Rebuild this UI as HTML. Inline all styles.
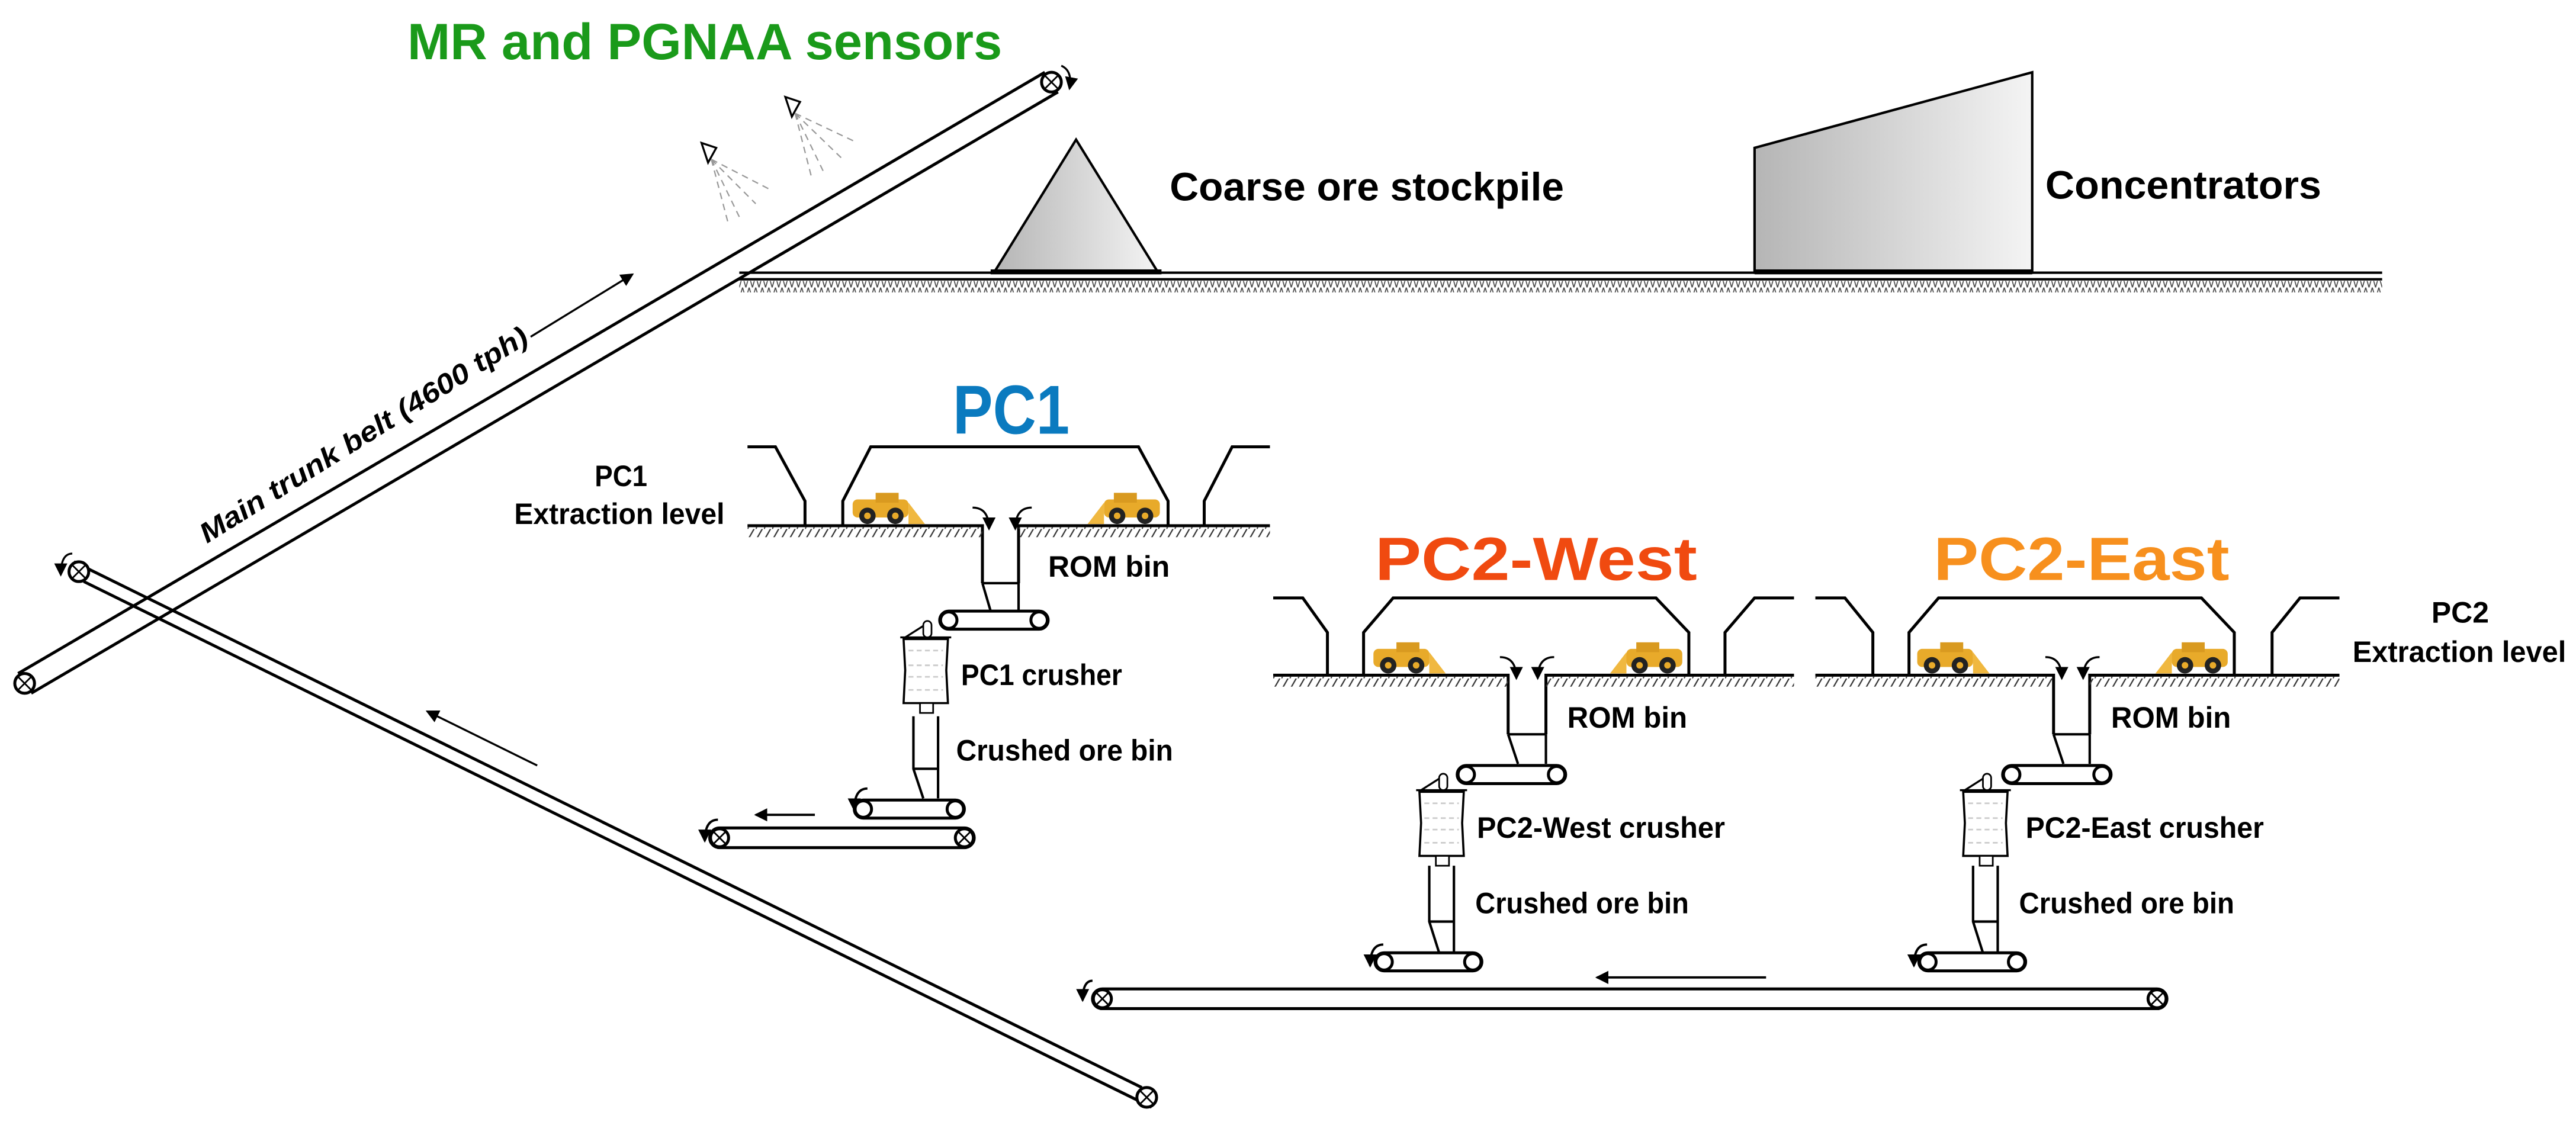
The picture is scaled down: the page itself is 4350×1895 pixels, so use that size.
<!DOCTYPE html>
<html><head><meta charset="utf-8"><style>
html,body{margin:0;padding:0;background:#fff;}
svg{display:block;}
text{font-family:"Liberation Sans",sans-serif;font-weight:bold;}
</style></head><body>
<svg width="4350" height="1895" viewBox="0 0 1568 683" preserveAspectRatio="none" xmlns="http://www.w3.org/2000/svg">
<defs>
<pattern id="hx" width="4" height="7" patternUnits="userSpaceOnUse"><path d="M0 0L2 7L4 0" stroke="#444" stroke-width="0.6" fill="none"/></pattern>
<pattern id="hs" width="5" height="7" patternUnits="userSpaceOnUse"><path d="M0 7L4 0" stroke="#333" stroke-width="0.8"/></pattern>
<linearGradient id="g" x1="0" x2="1"><stop offset="0" stop-color="#b5b5b5"/><stop offset="1" stop-color="#f4f4f4"/></linearGradient>
<marker id="ar" markerWidth="8" markerHeight="8" refX="7" refY="4" orient="auto" markerUnits="userSpaceOnUse"><path d="M0 0L8 4L0 8z" fill="#000"/></marker>
<g id="loaderR"><rect x="0" y="4" width="34" height="11" rx="3" fill="#e8aa2a"/><rect x="14" y="0" width="14" height="6" fill="#d99a20"/><circle cx="9" cy="14" r="5" fill="#222"/><circle cx="26" cy="14" r="5" fill="#222"/><circle cx="9" cy="14" r="2" fill="#e8aa2a"/><circle cx="26" cy="14" r="2" fill="#e8aa2a"/><path d="M34 6L44 19L34 19z" fill="#f0b840"/></g>
<g id="crusher"><path d="M0 10L31 10M3 10L14 3" stroke="#000" stroke-width="1.2" fill="none"/><rect x="14" y="0" width="5" height="10" rx="2.5" fill="#fff" stroke="#000"/><path d="M2 11L29 11L28 30L29 50L2 50L3 30z" fill="#fff" stroke="#000" stroke-width="1.3"/><g stroke="#ccc" stroke-dasharray="3 2"><path d="M5 18H26M5 27H26M5 34H26M5 42H26"/></g><rect x="12" y="50" width="8" height="6" fill="#fff" stroke="#000"/></g>
</defs>
<g stroke="#000" fill="none" stroke-width="1.8">
<!-- upper trunk belt -->
<path d="M11 410L636 44M19 422L644 56"/>
<circle cx="15" cy="416" r="6" fill="#fff"/><path d="M11 412l8 8M19 412l-8 8" stroke-width="1"/>
<circle cx="640" cy="50" r="6" fill="#fff"/><path d="M636 46l8 8M644 46l-8 8" stroke-width="1"/>
<path d="M646 40q7 3 5 14" stroke-width="1.2" marker-end="url(#ar)"/>
<!-- lower belt -->
<path d="M45 342L695 662M51 354L701 674"/>
<circle cx="48" cy="348" r="6" fill="#fff"/><path d="M44 344l8 8M52 344l-8 8" stroke-width="1"/>
<circle cx="698" cy="668" r="6" fill="#fff"/><path d="M694 664l8 8M702 664l-8 8" stroke-width="1"/>
<path d="M44 337q-7 0 -7 13" stroke-width="1.2" marker-end="url(#ar)"/>
<path d="M323 205L385 167" stroke-width="1.2" marker-end="url(#ar)"/>
<path d="M327 466L260 433" stroke-width="1.2" marker-end="url(#ar)"/>
<!-- ground -->
<path d="M450 166H1450M450 170H1450" stroke-width="1.5"/>
</g>
<rect x="450" y="171" width="1000" height="7" fill="url(#hx)"/>
<polygon points="605,166 655,85 705,166" fill="url(#g)" stroke="#000" stroke-width="1.5"/>
<rect x="603" y="164" width="104" height="3" fill="#000"/>
<polygon points="1068,166 1068,90 1237,44 1237,166" fill="url(#g)" stroke="#000" stroke-width="1.5"/>
<rect x="1068" y="164" width="169" height="3" fill="#000"/>
<!-- sensors -->
<g stroke="#000" stroke-width="1.2" fill="#fff"><path d="M427 87l9 3l-5 9z"/><path d="M478 59l9 3l-5 9z"/></g>
<g stroke="#999" stroke-width="0.8" stroke-dasharray="4 3"><path d="M433 97L443 135M433 97L450 132M433 97L460 124M433 97L468 115M484 69L494 108M484 69L501 104M484 69L512 96M484 69L520 86"/></g>
<!-- texts -->
<text x="248" y="36" font-size="31" fill="#1a9a1a" textLength="362" lengthAdjust="spacingAndGlyphs">MR and PGNAA sensors</text>
<text x="712" y="122" font-size="24" textLength="240" lengthAdjust="spacingAndGlyphs">Coarse ore stockpile</text>
<text x="1245" y="121" font-size="24" textLength="168" lengthAdjust="spacingAndGlyphs">Concentrators</text>
<text transform="translate(126,331) rotate(-32)" font-size="17" font-style="italic" textLength="232" lengthAdjust="spacingAndGlyphs">Main trunk belt (4600 tph)</text>
<text x="580" y="264" font-size="42" fill="#0a7abf" textLength="71" lengthAdjust="spacingAndGlyphs">PC1</text>
<text x="837" y="353" font-size="37" fill="#f04a10" textLength="196" lengthAdjust="spacingAndGlyphs">PC2-West</text>
<text x="1177" y="353" font-size="37" fill="#f7901e" textLength="180" lengthAdjust="spacingAndGlyphs">PC2-East</text>
<text x="362" y="296" font-size="18" textLength="32" lengthAdjust="spacingAndGlyphs">PC1</text>
<text x="313" y="319" font-size="18" textLength="128" lengthAdjust="spacingAndGlyphs">Extraction level</text>
<text x="1480" y="379" font-size="18" textLength="35" lengthAdjust="spacingAndGlyphs">PC2</text>
<text x="1432" y="403" font-size="18" textLength="130" lengthAdjust="spacingAndGlyphs">Extraction level</text>
<text x="638" y="351" font-size="18" textLength="74" lengthAdjust="spacingAndGlyphs">ROM bin</text>
<text x="585" y="417" font-size="18" textLength="98" lengthAdjust="spacingAndGlyphs">PC1 crusher</text>
<text x="582" y="463" font-size="18" textLength="132" lengthAdjust="spacingAndGlyphs">Crushed ore bin</text>
<text x="954" y="443" font-size="18" textLength="73" lengthAdjust="spacingAndGlyphs">ROM bin</text>
<text x="899" y="510" font-size="18" textLength="151" lengthAdjust="spacingAndGlyphs">PC2-West crusher</text>
<text x="898" y="556" font-size="18" textLength="130" lengthAdjust="spacingAndGlyphs">Crushed ore bin</text>
<text x="1285" y="443" font-size="18" textLength="73" lengthAdjust="spacingAndGlyphs">ROM bin</text>
<text x="1233" y="510" font-size="18" textLength="145" lengthAdjust="spacingAndGlyphs">PC2-East crusher</text>
<text x="1229" y="556" font-size="18" textLength="131" lengthAdjust="spacingAndGlyphs">Crushed ore bin</text>
<!-- drifts -->
<g stroke="#000" stroke-width="1.8" fill="none">
<path d="M455 272H472L490 305V320M513 320V305L530 272H693L711 305V320M733 320V305L750 272H773"/>
<path d="M455 320H598V355M620 355V320H773"/>
<path d="M598 355L603 372M620 355V372M598 355H620" stroke-width="1.5"/>
<path d="M775 364H793L808 385V411M830 411V385L848 364H1008L1028 385V411M1050 411V385L1068 364H1092"/>
<path d="M775 411H918V447M941 447V411H1092"/>
<path d="M918 447L924 465M941 447V465M918 447H941" stroke-width="1.5"/>
<path d="M1105 364H1123L1140 385V411M1162 411V385L1180 364H1340L1360 385V411M1383 411V385L1400 364H1424"/>
<path d="M1105 411H1250V447M1272 447V411H1424"/>
<path d="M1250 447L1256 465M1272 447V465M1250 447H1272" stroke-width="1.5"/>
<!-- crushed bins -->
<path d="M556 436V468L562 486M571 436V486M556 468H571" stroke-width="1.5"/>
<path d="M870 527V561L876 580M885 527V580M870 561H885" stroke-width="1.5"/>
<path d="M1201 527V561L1207 580M1216 527V580M1201 561H1216" stroke-width="1.5"/>
</g>
<rect x="455" y="321" width="143" height="6" fill="url(#hs)"/><rect x="620" y="321" width="153" height="6" fill="url(#hs)"/>
<rect x="775" y="412" width="143" height="6" fill="url(#hs)"/><rect x="941" y="412" width="151" height="6" fill="url(#hs)"/>
<rect x="1105" y="412" width="145" height="6" fill="url(#hs)"/><rect x="1272" y="412" width="152" height="6" fill="url(#hs)"/>
<!-- loaders -->
<use href="#loaderR" x="519" y="300"/><use href="#loaderR" transform="translate(706,300) scale(-1,1)"/>
<use href="#loaderR" x="836" y="391"/><use href="#loaderR" transform="translate(1024,391) scale(-1,1)"/>
<use href="#loaderR" x="1167" y="391"/><use href="#loaderR" transform="translate(1356,391) scale(-1,1)"/>
<!-- dump arrows -->
<g stroke="#000" stroke-width="1.2" fill="none">
<path d="M592 309q10 0 10 13" marker-end="url(#ar)"/><path d="M628 309q-10 0 -10 13" marker-end="url(#ar)"/>
<path d="M913 400q10 0 10 13" marker-end="url(#ar)"/><path d="M946 400q-10 0 -10 13" marker-end="url(#ar)"/>
<path d="M1245 400q10 0 10 13" marker-end="url(#ar)"/><path d="M1278 400q-10 0 -10 13" marker-end="url(#ar)"/>
</g>
<!-- conveyors -->
<g stroke="#000" stroke-width="1.8" fill="#fff">
<rect x="572" y="372" width="66" height="11" rx="5.5"/><circle cx="577.5" cy="377.5" r="5"/><circle cx="632.5" cy="377.5" r="5"/>
<rect x="520" y="487" width="67" height="11" rx="5.5"/><circle cx="525.5" cy="492.5" r="5"/><circle cx="581.5" cy="492.5" r="5"/>
<rect x="432" y="504" width="161" height="12" rx="6"/><circle cx="438" cy="510" r="5.5"/><circle cx="587" cy="510" r="5.5"/>
<rect x="887" y="466" width="66" height="11" rx="5.5"/><circle cx="892.5" cy="471.5" r="5"/><circle cx="947.5" cy="471.5" r="5"/>
<rect x="837" y="580" width="65" height="11" rx="5.5"/><circle cx="842.5" cy="585.5" r="5"/><circle cx="896.5" cy="585.5" r="5"/>
<rect x="1219" y="466" width="66" height="11" rx="5.5"/><circle cx="1224.5" cy="471.5" r="5"/><circle cx="1279.5" cy="471.5" r="5"/>
<rect x="1168" y="580" width="65" height="11" rx="5.5"/><circle cx="1173.5" cy="585.5" r="5"/><circle cx="1227.5" cy="585.5" r="5"/>
<rect x="665" y="602" width="654" height="12" rx="6"/><circle cx="671" cy="608" r="5.5"/><circle cx="1313" cy="608" r="5.5"/>
</g>
<g stroke="#000" stroke-width="1"><path d="M434 506l8 8M442 506l-8 8M583 506l8 8M591 506l-8 8M667 604l8 8M675 604l-8 8M1309 604l8 8M1317 604l-8 8"/></g>
<g stroke="#000" stroke-width="1.4" fill="none">
<path d="M496 496H460" marker-end="url(#ar)"/>
<path d="M1075 595H972" marker-end="url(#ar)"/>
<path d="M528 480q-8 0 -8 13" marker-end="url(#ar)"/>
<path d="M437 499q-8 0 -8 13" marker-end="url(#ar)"/>
<path d="M842 575q-8 0 -8 13" marker-end="url(#ar)"/>
<path d="M1173 575q-8 0 -8 13" marker-end="url(#ar)"/>
<path d="M665 597q-6 0 -6 12" marker-end="url(#ar)"/>
</g>
<!-- crushers -->
<use href="#crusher" x="548" y="378"/>
<use href="#crusher" x="862" y="471"/>
<use href="#crusher" x="1193" y="471"/>
</svg>
</body></html>
